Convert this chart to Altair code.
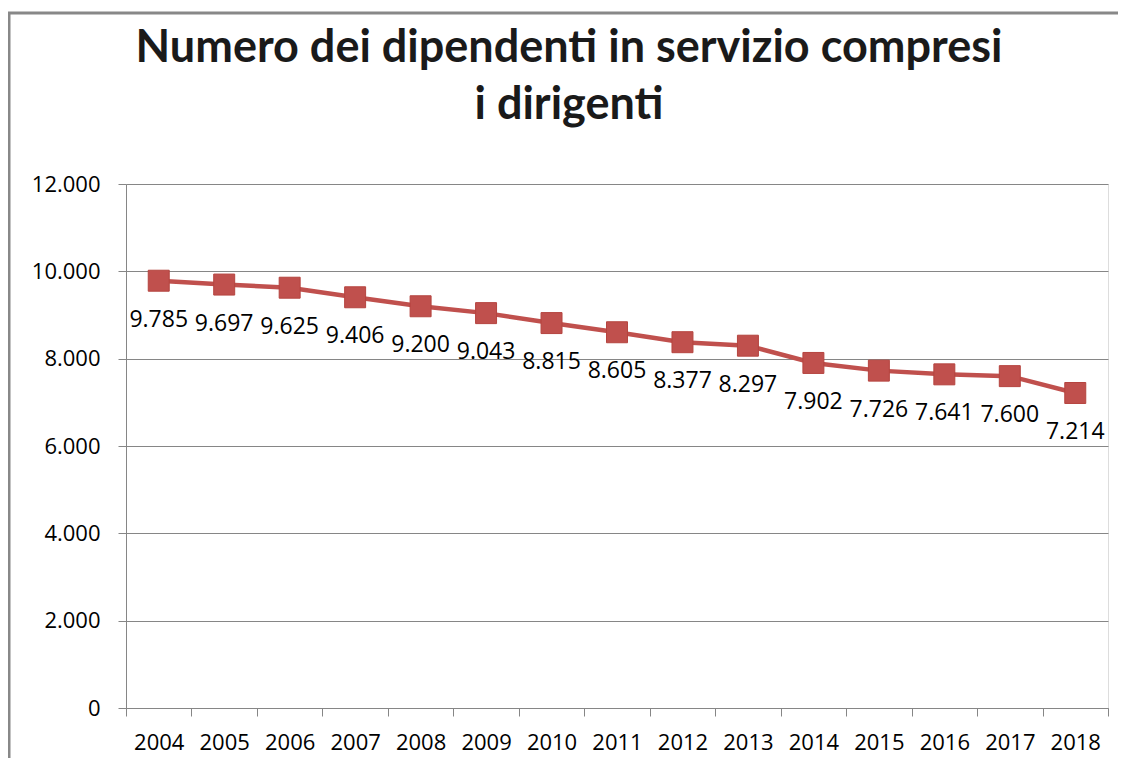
import altair as alt
import pandas as pd

years = [str(y) for y in range(2004, 2019)]
values = [9785, 9697, 9625, 9406, 9200, 9043, 8815, 8605, 8377, 8297, 7902, 7726, 7641, 7600, 7214]
title_lines = ["Numero dei dipendenti in servizio compresi", "i dirigenti"]
y_ticks = [0, 2000, 4000, 6000, 8000, 10000, 12000]

df = pd.DataFrame({"anno": years, "dipendenti": values})
df["etichetta"] = [f"{v:,}".replace(",", ".") for v in values]

RED = "#C0504D"
GRID = "#868686"

x_enc = alt.X(
    "anno:N", sort=years, title=None, bandPosition=0.5,
    scale=alt.Scale(type="band", paddingInner=0, paddingOuter=0),
    axis=alt.Axis(labelAngle=0, tickBand="extent", domainColor=GRID, tickColor=GRID,
                  tickSize=8, labelPadding=16, labelFontSize=22, labelFont="Open Sans",
                  labelColor="#000000", grid=False),
)
y_enc = alt.Y(
    "dipendenti:Q", title=None,
    scale=alt.Scale(domain=[0, 12000], nice=False),
    axis=alt.Axis(values=y_ticks, labelExpr="replace(format(datum.value, ','), ',', '.')",
                  domainColor=GRID, tickColor=GRID, gridColor=GRID, tickSize=8,
                  labelPadding=18, labelFontSize=22, labelFont="Open Sans",
                  labelColor="#000000", grid=True),
)

base = alt.Chart(df).encode(x=x_enc, y=y_enc)
line = base.mark_line(color=RED, strokeWidth=4.5)
points = base.mark_square(size=440, color=RED, opacity=1, stroke="#B5443F", strokeWidth=1)
labels = base.mark_text(dy=39, fontSize=23, font="Open Sans", color="#000000").encode(text="etichetta:N")

frame = alt.Chart(pd.DataFrame({"k": [0]})).mark_rect(
    fill=None, stroke="#888888", strokeWidth=3
).encode(x=alt.value(-117), y=alt.value(-171), x2=alt.value(1010), y2=alt.value(600))

chart = alt.layer(frame, line, points, labels).properties(
    width=982, height=524,
    title=alt.TitleParams(text=title_lines, font="Lato", fontSize=45, fontWeight="bold",
                          color="#1a1a1a", anchor="middle", dx=-48, offset=0, dy=152,
                          lineHeight=57, baseline="alphabetic"),
    autosize=alt.AutoSizeParams(type="none"),
    padding={"left": 118, "top": 176, "right": 10, "bottom": 50},
).configure_view(stroke=None).configure(background="white")

chart.save("out.html", embed_options={"renderer": "svg", "actions": False})
